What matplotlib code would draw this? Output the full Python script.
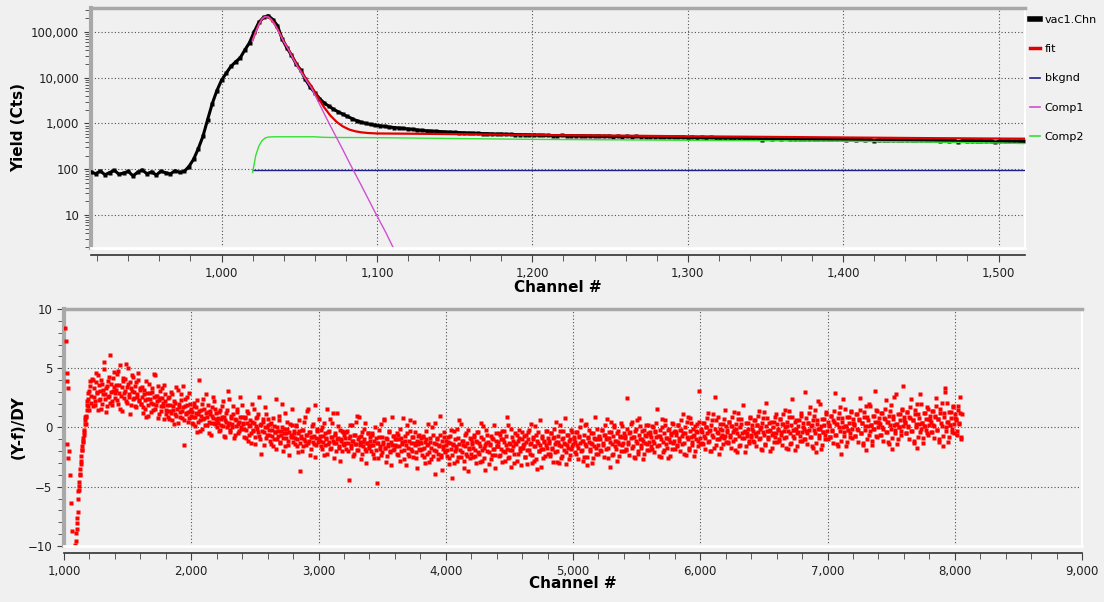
import matplotlib
matplotlib.use('Agg')
import matplotlib.pyplot as plt
import matplotlib.ticker as mticker
from matplotlib.lines import Line2D
import numpy as np

#-------------------------------------
# spectrum (every 3rd channel)
#-------------------------------------
data_ch = np.arange(916, 1517, 3)
data_cts = [
    88, 80, 92, 76, 85, 95, 78, 83, 90, 72, 86, 97, 80, 88, 75, 91, 84, 79, 93, 86,
    90, 115, 165, 280, 520, 1200, 2700, 5200, 8800, 12500, 17500, 22000, 27000, 40000, 58000, 100000, 160000, 205000, 225000, 185000,
    135000, 70000, 45000, 31000, 20000, 14500, 9100, 6300, 4700, 3500, 2800, 2400, 2050, 1800, 1600, 1420, 1280, 1150, 1060, 1000,
    950, 915, 890, 860, 835, 815, 795, 780, 760, 745, 720, 705, 690, 680, 670, 660, 650, 645, 640, 632,
    625, 620, 612, 608, 600, 598, 590, 585, 588, 578, 575, 570, 568, 565, 560, 562, 555, 552, 548, 545,
    540, 548, 535, 542, 530, 538, 528, 533, 525, 530, 520, 527, 518, 524, 515, 522, 512, 520, 510, 517,
    508, 514, 502, 510, 498, 505, 495, 503, 490, 500, 488, 496, 485, 494, 482, 490, 480, 488, 478, 486,
    476, 484, 472, 480, 440, 476, 465, 473, 462, 470, 460, 467, 457, 465, 455, 462, 452, 460, 450, 457,
    448, 455, 445, 452, 442, 450, 440, 447, 410, 445, 435, 442, 433, 440, 431, 438, 429, 436, 427, 434,
    425, 432, 423, 430, 421, 428, 395, 426, 417, 424, 415, 422, 413, 420, 385, 418, 409, 416, 407, 414,
    405]

fit_ch = [1020, 1022, 1024, 1026, 1028, 1030, 1032, 1034, 1036, 1038, 1040, 1043, 1046, 1049, 1052, 1055,
          1058, 1062, 1066, 1070, 1074, 1078, 1082, 1086, 1090, 1094, 1100, 1120, 1140, 1160, 1200, 1250,
          1300, 1350, 1400, 1450, 1500, 1517]
fit_cts = [66000, 100000, 145000, 190000, 215000, 212000, 185000, 150000, 115000, 85000, 62000, 42000,
           27000, 18000, 12500, 8800, 6400, 3700, 2250, 1490, 1085, 865, 740, 675, 640, 620, 605, 598,
           590, 580, 560, 545, 525, 510, 495, 480, 468, 465]

comp1_ch = [1020, 1022, 1024, 1026, 1028, 1030, 1032, 1034, 1036, 1038, 1040, 1043, 1046, 1049, 1052, 1055,
            1058, 1062, 1066, 1070, 1074, 1078, 1082, 1086, 1090, 1094, 1098, 1102, 1106, 1110, 1112]
comp1_cts = [65000, 99000, 144000, 189000, 214000, 211000, 184000, 149000, 114000, 84000, 61000, 41000,
             26000, 17000, 11800, 8200, 5800, 3100, 1650, 890, 490, 270, 145, 80, 44, 24, 13, 7.2, 4.0,
             2.1, 1.6]

comp2_ch = [1020, 1021, 1022, 1024, 1026, 1028, 1030, 1034, 1040, 1060, 1065, 1070, 1100, 1150, 1200,
            1250, 1300, 1350, 1400, 1450, 1500, 1517]
comp2_cts = [85, 130, 200, 320, 420, 480, 505, 512, 512, 512, 500, 495, 490, 470, 450, 440, 430, 420,
             410, 395, 375, 365]

bkgnd_ch = [1020, 1517]
bkgnd_cts = [95, 95]

#-------------------------------------
# residuals, two interleaved sets (every 8th channel), plus a few extra near the edge
#-------------------------------------
resid_ch = np.arange(1008, 8057, 8)
resid = [
    8.4, 7.3, 4.6, 3.3, -2.0, -4.0, -6.4, -8.7, -12.0, -14.0, -11.0, -9.6, -8.1, -6.0, -4.6, -3.5, -2.4, -1.6, -0.9, -0.2, 0.6, 1.0, 2.2, 1.8, 3.1,
    3.5, 2.1, 4.0, 2.6, 1.9, 3.8, 2.9, 4.4, 2.3, 3.1, 1.6, 3.7, 2.8, 4.9, 2.4, 3.3, 1.8, 3.9, 2.7, 6.1, 3.0, 2.2, 4.2, 3.4, 2.5,
    3.2, 4.5, 2.0, 3.6, 5.3, 2.7, 1.4, 3.9, 2.9, 4.1, 2.2, 3.4, 5.0, 2.6, 3.8, 1.9, 3.1, 4.3, 2.5, 3.5, 1.7, 2.8, 4.0, 2.3, 3.3,
    2.0, 3.4, 1.2, 2.8, 1.6, 3.9, 2.4, 1.0, 2.9, 2.1, 3.3, 1.5, 2.6, 4.4, 1.9, 2.7, 0.8, 2.3, 3.1, 1.4, 2.5, 1.8, 3.6, 2.2, 1.1,
    1.9, 0.9, 2.6, 1.4, 3.0, 0.6, 1.8, 2.2, 1.1, 3.4, 1.6, 0.4, 2.0, 1.3, 2.8, 0.8, 1.7, -1.5, 2.4, 1.2, 1.9, 0.5, 2.9, 1.4, 1.0,
    1.3, 0.3, 2.1, 0.9, 1.7, -0.4, 1.1, 4.0, 0.6, 1.5, -0.1, 2.4, 0.8, 1.2, 0.2, 1.9, 0.5, 1.4, -0.6, 1.0, 2.6, 0.4, 1.6, 0.7, 0.0,
    0.8, -0.3, 1.5, 0.2, 0.9, 2.2, -0.7, 0.6, 1.2, 0.0, 3.1, 0.4, -0.2, 1.0, 0.3, 1.8, -0.9, 0.7, 0.1, 1.3, -0.5, 0.5, 2.6, -0.1, 0.9,
    0.3, -0.8, 0.9, -0.2, 1.4, -1.1, 0.1, 0.6, -0.5, 2.0, -0.3, 0.4, -1.4, 0.8, -0.1, 1.1, -0.7, 0.2, -2.2, 0.5, -0.4, 1.7, -0.9, 0.0, 0.7,
    -0.2, -1.1, 0.4, -0.7, -1.6, 0.1, -0.4, 2.4, -1.0, -0.3, 0.6, -1.3, -0.6, 0.0, -2.0, -0.5, 1.2, -0.9, -0.1, -1.5, -0.4, 0.3, -0.8, 1.6, -1.2,
    -0.5, -1.4, 0.2, -1.0, -2.1, -0.3, -3.7, -0.9, -0.2, -1.6, 0.5, -1.1, -0.6, 1.4, -1.3, -0.4, -2.3, -0.8, 0.1, -1.2, -0.7, 1.9, -1.5, -0.3, -1.0,
    -0.7, -1.6, 0.0, -1.2, -2.3, -0.5, -1.0, 1.6, -1.4, -0.3, -1.8, -0.8, 0.4, -1.1, -2.6, -0.6, -1.3, 1.2, -0.9, -1.7, -0.2, -1.0, -2.0, -0.4, -1.5,
    -0.9, -1.8, -0.3, -1.3, -4.4, -0.7, -1.5, 0.2, -1.1, -2.2, -0.6, -1.4, 1.0, -1.9, -0.8, -1.2, -2.7, -0.4, -1.6, -1.0, 0.4, -2.0, -1.3, -0.5, -1.7,
    -1.1, -2.0, -0.5, -1.5, -2.6, -0.9, -4.7, -1.3, -0.2, -1.8, -2.3, -0.8, -1.4, 0.6, -1.7, -2.9, -1.0, -1.6, -0.4, -2.1, -1.2, 0.9, -1.9, -0.7, -1.5,
    -1.0, -2.2, -0.6, -1.6, -2.8, -0.9, -1.4, 0.8, -1.9, -1.1, -3.2, -0.5, -1.7, -2.4, -0.3, -1.3, -2.0, -0.8, 0.5, -1.5, -2.6, -1.1, -0.7, -1.8, -1.2,
    -1.3, -2.3, -0.8, -1.7, -3.0, -1.0, -1.5, 0.3, -2.1, -1.2, -2.7, -0.6, -1.9, -3.9, -1.4, -0.9, -2.2, -1.6, 1.0, -2.5, -1.1, -1.8, -0.4, -2.0, -1.5,
    -2.4, -1.2, -3.1, -0.7, -1.8, -4.3, -1.4, -0.3, -2.0, -1.6, -2.8, -0.9, 0.6, -1.9, -2.5, -1.1, -1.5, -3.4, -0.6, -2.2, -1.3, -0.2, -1.8, -2.6, -1.0,
    -1.4, -2.5, -0.8, -1.9, -3.0, -1.2, -0.4, -2.2, -1.6, 0.4, -2.8, -1.0, -1.7, -3.6, -1.3, -0.6, -2.1, -1.5, -2.7, -0.9, -1.8, 0.2, -2.3, -1.1, -1.6,
    -1.2, -2.4, -0.6, -1.8, -2.9, -1.0, -0.3, -2.1, -1.5, 0.9, -2.6, -1.3, -1.9, -3.3, -0.8, -1.6, -2.2, -0.5, -1.4, -2.8, -1.1, -0.2, -2.0, -1.7, -1.0,
    -1.7, -0.7, -2.5, -1.2, -3.1, -0.4, -1.9, -1.4, 0.3, -2.3, -1.0, -2.8, -1.6, -0.6, -3.5, -1.3, -2.0, 0.6, -1.8, -0.9, -2.6, -1.1, -1.5, -0.3, -2.2,
    -1.1, -2.2, -0.5, -1.7, -2.9, -0.8, -1.4, 0.5, -2.0, -1.2, -3.0, -0.3, -1.6, -2.4, -0.9, -1.3, 0.8, -2.1, -1.5, -0.6, -2.7, -1.0, -1.8, -0.4, -1.4,
    -1.0, -2.1, -0.4, -1.5, -2.7, -0.7, -1.3, 0.6, -1.9, -1.1, -2.5, 0.2, -1.6, -3.2, -0.8, -1.2, -2.0, -0.5, -1.4, -2.6, -0.9, 0.9, -1.7, -1.0, -2.2,
    -0.8, -1.9, -0.2, -1.3, -2.5, -0.6, -1.0, 0.7, -1.7, -0.9, -3.3, -0.4, -1.4, -2.2, 0.2, -1.1, -1.8, -0.5, -1.2, -2.4, -0.7, 0.4, -1.5, -0.8, -2.0,
    -0.7, -1.8, 2.5, -1.2, -2.3, -0.4, -0.9, 0.5, -1.6, -0.8, -2.6, -0.1, -1.3, -2.0, 0.8, -1.0, -1.7, -0.3, -1.1, -2.2, -0.6, 0.2, -1.4, -0.5, -1.9,
    -0.6, -1.6, 0.1, -1.1, -2.1, -0.3, -0.8, 1.6, -1.5, -0.7, -2.5, 0.0, -1.2, -1.9, 0.6, -0.9, -1.7, -0.2, -1.0, -2.4, -0.5, 0.4, -1.3, -0.4, -1.8,
    -0.4, -1.5, 0.2, -0.9, -2.0, -0.2, -0.7, 1.1, -1.3, -0.5, -2.3, 0.5, -1.0, -1.7, 0.8, -0.8, -1.5, -0.1, -0.6, -2.0, -0.3, 0.3, -1.1, 3.1, -1.4,
    -0.3, -1.3, 0.4, -0.7, -1.8, 0.0, -0.5, 1.2, -1.1, -0.2, -2.0, 0.6, -0.8, 2.6, -1.5, -0.4, 0.9, -1.0, -0.1, -1.7, -0.6, 0.3, -0.9, 1.5, -1.2,
    -0.2, -1.2, 0.5, -0.6, -1.7, 0.1, -0.4, 1.3, -1.0, -0.1, -2.1, 0.7, -0.7, -1.5, 0.3, -0.5, 1.9, -0.9, -0.3, -1.6, -0.5, 0.4, -1.1, 0.9, -0.8,
    -0.1, -1.1, 0.6, -0.5, -1.6, 0.2, -0.4, 1.4, -0.9, 0.0, -1.9, 0.8, -0.6, -1.4, 2.1, -0.3, -1.0, 0.4, -0.2, -1.7, -0.5, 0.5, -0.8, 1.1, -1.2,
    -0.1, -1.0, 0.7, -0.4, -1.5, 0.3, -0.3, 1.5, -0.8, 0.1, -1.8, 0.9, -0.5, -1.3, 2.4, -0.2, -0.9, 0.5, -0.1, -1.6, -0.4, 0.6, -0.7, 1.2, -1.1,
    0.0, -1.0, 3.0, -0.3, -1.4, 0.4, -0.2, 1.7, -0.8, 0.2, -1.7, 1.0, -0.5, -2.1, 0.6, -0.1, -0.9, 2.0, 0.1, -1.5, -0.4, 0.7, -0.6, 1.3, -1.0,
    0.2, -0.8, 1.0, -0.2, -1.3, 0.5, 2.9, -0.6, 0.3, -1.6, 1.2, -0.3, -2.2, 0.8, 0.0, -0.7, 1.6, 0.1, -1.2, -0.2, 0.9, -0.5, 1.4, -0.9, 0.4,
    0.3, -0.7, 1.1, -0.1, -1.2, 0.6, 2.5, -0.5, 0.4, -1.5, 1.3, -0.2, -1.9, 0.9, 0.1, -0.6, 1.8, 0.2, -1.1, -0.1, 1.0, 3.1, 1.5, -0.8, 0.5,
    0.4, -0.6, 1.2, 0.0, -1.1, 0.7, 2.3, -0.4, 0.5, -1.4, 1.4, -0.1, -1.8, 1.0, 0.2, -0.5, 2.8, 0.3, -1.0, 0.0, 1.1, -0.3, 1.6, 3.5, 0.6,
    0.5, -0.5, 1.3, 0.1, -1.0, 0.8, 2.4, -0.3, 0.6, -1.3, 1.5, 0.0, -1.7, 1.1, 0.3, -0.4, 2.0, 0.4, -0.9, 0.1, 1.2, -0.2, 1.7, -0.6, 0.7,
    0.6, -0.4, 1.4, 0.2, -0.9, 0.9, 2.5, -0.2, 0.7, -1.2, 1.6, 0.1, -1.6, 1.2, 3.3, -0.3, 2.1, 0.5, -0.8, 0.2, 1.3, -0.1, 1.8, -0.5, 0.8,
    0.6, -0.6, 1.5, 0.3, 2.6, -1.0, 1.1]

resid2_ch = np.arange(1012, 8053, 8)
resid2 = [
    -11.5, -13.0, -14.0, -15.0, -16.0, -16.0, -15.0, -14.0, -13.0, -12.0, -10.4, -8.6, -7.1, -5.3, -4.0, -3.1, -1.9, -1.1, -0.6, 0.9, 0.3, 1.9, 2.9, 1.5, 3.9,
    2.7, 4.1, 1.8, 3.3, 2.2, 4.6, 3.0, 1.5, 3.6, 2.4, 4.0, 2.0, 3.2, 5.5, 2.8, 1.3, 3.5, 2.6, 4.3, 2.1, 3.7, 1.9, 3.1, 4.7, 2.9,
    3.6, 2.3, 4.8, 2.9, 1.6, 3.4, 4.2, 2.5, 3.1, 5.4, 2.1, 3.7, 2.8, 1.1, 3.3, 4.4, 2.4, 3.0, 1.8, 3.8, 2.6, 4.6, 2.2, 3.2, 2.0,
    2.6, 1.7, 3.2, 2.3, 0.9, 2.9, 1.9, 3.7, 2.4, 1.3, 3.0, 2.0, 4.5, 1.6, 2.7, 2.2, 3.5, 1.1, 2.5, 1.8, 3.3, 2.1, 0.7, 2.8, 1.5,
    1.4, 2.5, 0.7, 1.9, 1.2, 2.8, 1.5, 0.3, 2.1, 1.0, 3.2, 1.7, 0.9, 2.3, 1.4, 3.5, 0.6, 1.8, 1.1, 2.6, 1.3, 0.8, 2.0, 1.6, 0.4,
    0.9, 1.8, 0.1, 1.2, 2.3, 0.5, 1.4, -0.3, 1.0, 2.0, 0.7, 1.6, 0.2, 2.8, 0.9, 1.3, -0.5, 1.1, 0.4, 1.7, 0.8, 2.2, 0.3, 1.2, 0.6,
    0.4, 1.3, -0.2, 0.7, 1.8, 0.1, 0.9, -0.8, 0.5, 1.5, 0.2, 2.4, -0.4, 0.8, 0.0, 1.1, -0.6, 0.6, 1.6, 0.3, -0.3, 0.9, 0.0, 1.9, 0.4,
    -0.1, 0.8, -0.9, 0.4, 1.2, -0.6, 0.2, -1.3, 0.5, -0.2, 1.6, -0.8, 0.1, 0.9, -0.4, 2.6, -1.0, 0.3, -0.3, 0.7, -1.5, 0.0, 1.1, -0.6, 0.2,
    -0.6, 0.3, -1.4, -0.2, 0.8, -1.0, -0.4, -1.8, 0.0, -0.7, 1.0, -1.2, -0.3, 2.0, -0.9, -0.1, -1.6, -0.5, 0.5, -1.1, -2.3, -0.6, 0.2, -0.8, -0.3,
    -0.9, 0.1, -1.6, -0.5, 0.6, -1.3, -0.7, -2.0, -0.2, -1.0, 0.9, -1.5, -0.6, 1.6, -1.1, -0.4, -1.8, -0.8, 0.3, -1.4, -2.5, -0.9, -0.1, -1.2, 0.7,
    -1.1, -0.2, -1.8, -0.7, 0.4, -1.5, -0.9, -2.2, -0.4, -1.2, 0.7, -1.7, -0.8, 1.2, -1.3, -0.5, -2.0, -1.0, 0.1, -1.6, -2.8, -1.1, -0.3, -1.4, -0.6,
    -1.3, -0.4, -2.0, -0.9, 0.2, -1.7, -1.1, -2.4, -0.6, -1.4, 0.5, -1.9, -1.0, 0.9, -1.5, -0.7, -2.2, -1.2, -0.1, -1.8, -3.0, -1.3, -0.5, -1.6, -0.8,
    -1.5, -0.6, -2.2, -1.1, 0.0, -1.9, -1.3, -2.6, -0.8, -1.6, 0.3, -2.1, -1.2, 0.7, -1.7, -0.9, -2.4, -1.4, -0.3, -2.0, -3.2, -1.5, -0.7, -1.8, -1.0,
    -1.6, -0.5, -2.3, -1.0, -0.1, -2.0, -1.2, -2.7, -0.7, -1.5, 0.2, -2.2, -1.1, 0.6, -1.8, -0.8, -2.5, -1.3, -0.4, -2.1, -3.4, -1.4, -0.6, -1.9, -0.9,
    -1.8, -0.7, -2.5, -1.2, -0.3, -2.2, -1.4, -2.9, -0.9, -1.7, 0.0, -2.4, -1.3, 0.4, -2.0, -1.0, -2.7, -1.5, -0.6, -2.3, -3.6, -1.6, -0.8, -2.1, -1.1,
    -1.9, -0.8, -2.6, -1.3, -0.2, -2.3, -1.5, -3.0, -1.0, -1.8, -0.1, -2.5, -1.4, 0.3, -2.1, -1.1, -2.8, -1.6, -0.5, -2.4, -3.7, -1.7, -0.9, -2.2, -1.2,
    -1.7, -0.6, -2.4, -1.1, -0.4, -2.1, -1.3, -2.9, -0.8, -1.9, 0.1, -2.6, -1.5, -0.2, -2.0, -1.2, -3.1, -1.4, -0.7, -2.3, -1.0, -1.8, -3.4, -0.5, -1.6,
    -1.6, -0.5, -2.3, -1.0, -0.3, -2.0, -1.2, -2.8, -0.7, -1.8, 0.2, -2.5, -1.4, -0.1, -1.9, -1.1, -3.0, -1.3, -0.6, -2.2, -0.9, -1.7, -3.2, -0.4, -1.5,
    -1.4, -2.5, -0.6, -1.9, -1.0, -0.2, -2.2, -1.3, -3.0, -0.8, -1.6, 0.1, -2.7, -1.1, -0.4, -2.0, -1.5, -3.3, -0.7, -1.8, -1.2, -2.4, -0.3, -1.7, -0.9,
    -1.3, -2.4, -0.5, -1.8, -0.9, -0.1, -2.1, -1.2, -2.9, -0.7, -1.5, 0.2, -2.6, -1.0, -0.3, -1.9, -1.4, -3.1, -0.6, -1.7, -1.1, -2.3, -0.2, -1.6, -0.8,
    -1.2, -2.2, -0.4, -1.7, -0.8, 0.0, -2.0, -1.1, -2.8, -0.6, -1.4, 0.3, -2.5, -0.9, -0.2, -1.8, -1.3, -3.0, -0.5, -1.6, -1.0, -2.2, -0.1, -1.5, -0.7,
    -1.0, -2.0, -0.2, -1.5, -0.6, 0.2, -1.8, -0.9, -2.6, -0.4, -1.2, 0.5, -2.3, -0.7, 0.0, -1.6, -1.1, -2.8, -0.3, -1.4, -0.8, -2.0, 0.1, -1.3, -0.5,
    -0.9, -1.9, -0.1, -1.4, -0.5, 0.3, -1.7, -0.8, -2.5, -0.3, -1.1, 0.6, -2.2, -0.6, 0.1, -1.5, -1.0, -2.7, -0.2, -1.3, -0.7, -1.9, 0.2, -1.2, -0.4,
    -0.8, -1.8, 0.0, -1.3, -0.4, 0.4, -1.6, -0.7, -2.4, -0.2, -1.0, 0.7, -2.1, -0.5, 0.2, -1.4, -0.9, -2.6, -0.1, -1.2, -0.6, -1.8, 0.3, -1.1, -0.3,
    -0.6, -1.6, 0.2, -1.1, -0.2, 0.6, -1.4, -0.5, -2.2, 0.0, -0.8, 0.9, -1.9, -0.3, 0.4, -1.2, -0.7, -2.4, 0.1, -1.0, -0.4, -1.6, 0.5, -0.9, -0.1,
    -0.4, -1.4, 0.4, -0.9, 0.0, 0.8, -1.2, -0.3, -2.0, 0.2, -0.6, 1.1, -1.7, -0.1, 0.6, -1.0, -0.5, -2.2, 0.3, -0.8, -0.2, -1.4, 0.7, -0.7, 0.1,
    -0.4, -1.3, 0.5, -0.8, 0.1, 0.9, -1.1, -0.2, -1.9, 0.3, -0.5, 1.2, -1.6, 0.0, 0.7, -0.9, -0.4, -2.1, 0.4, -0.7, -0.1, -1.3, 0.8, -0.6, 0.2,
    -0.3, -1.2, 0.6, -0.7, 0.2, 1.0, -1.0, -0.1, -1.8, 0.4, -0.4, 1.3, -1.5, 0.1, 0.8, -0.8, -0.3, -2.0, 0.5, -0.6, 0.0, -1.2, 0.9, -0.5, 0.3,
    -0.2, -1.1, 0.7, -0.6, 0.3, 1.1, -0.9, 0.0, -1.7, 0.5, -0.3, 1.4, -1.4, 0.2, 0.9, -0.7, -0.2, -1.9, 0.6, -0.5, 0.1, -1.1, 1.0, -0.4, 0.4,
    -0.1, -1.0, 0.8, -0.5, 0.4, 1.2, -0.8, 0.1, -1.6, 0.6, -0.2, 1.5, -1.3, 0.3, 2.2, -0.6, -0.1, -1.8, 0.7, -0.4, 0.2, -1.0, 1.1, -0.3, 0.5,
    0.1, -0.8, 1.0, -0.3, 0.6, 1.4, -0.6, 0.3, -1.4, 0.8, 0.0, 1.7, -1.1, 0.5, 2.4, -0.4, 0.1, -1.6, 0.9, -0.2, 0.4, -0.8, 1.3, -0.1, 0.7,
    0.2, -0.7, 1.1, -0.2, 0.7, 1.5, -0.5, 0.4, -1.3, 0.9, 0.1, 1.8, -1.0, 0.6, 2.0, -0.3, 0.2, -1.5, 1.0, -0.1, 0.5, -0.7, 1.4, 0.0, 0.8,
    0.3, -0.6, 1.2, -0.1, 0.8, 1.6, -0.4, 0.5, -1.2, 1.0, 0.2, 1.9, -0.9, 0.7, 2.6, -0.2, 0.3, -1.4, 1.1, 0.0, 0.6, -0.6, 1.5, 0.1, 0.9,
    0.4, -0.5, 1.3, 0.0, 0.9, 1.7, -0.3, 0.6, -1.1, 1.1, 0.3, 2.0, -0.8, 0.8, 2.8, -0.1, 0.4, -1.3, 1.2, 0.1, 0.7, -0.5, 1.6, 0.2, 1.0,
    0.5, -0.4, 1.4, 0.1, 1.0, 1.8, -0.2, 0.7, -1.0, 1.2, 0.4, 2.1, -0.7, 0.9, 3.0, 0.0, 0.5, -1.2, 1.3, 0.2, 0.8, -0.4, 1.7, 0.3, 1.1,
    0.7, -0.3, 1.8, 0.4, 1.2, -0.8]

extra_ch = [1020, 1026, 1034, 1090, 1096, 1104, 1112, 1118, 1124, 1132, 1140, 1148, 1156, 1164, 1172, 1180, 1190]
extra_resid = [3.9, -1.4, -2.6, -9.9, -8.9, -7.6, -5.4, -4.9, -3.9, -2.8, -1.9, -1.2, -0.4, 0.3, 0.9, 1.5, 2.4]

BG = '#f0f0f0'
RED = '#ff0000'
plt.rcParams['font.family'] = 'DejaVu Sans'

#-------------------------------------
def comma_fmt(v, p):
    return '{:,.0f}'.format(v)

def style_axes(ax):
    ax.set_facecolor(BG)
    ax.spines['left'].set_color('#a8a8a8')
    ax.spines['left'].set_linewidth(3)
    ax.spines['top'].set_color('#a8a8a8')
    ax.spines['top'].set_linewidth(2.5)
    ax.spines['right'].set_color('white')
    ax.spines['right'].set_linewidth(1.5)
    ax.spines['bottom'].set_position(('outward', 5))
    ax.spines['bottom'].set_color('#303030')
    ax.spines['bottom'].set_linewidth(1.2)
    # white edge along the bottom of the plot area
    ax.plot([0, 1], [0, 0], transform=ax.transAxes, color='white', lw=2, clip_on=False, zorder=5)
    ax.grid(True, which='major', linestyle=(0, (1, 2)), color='#505050', linewidth=0.8)
    ax.tick_params(which='both', direction='out', color='#404040', labelsize=8.5, labelcolor='#202020')
    ax.tick_params(which='major', length=5)
    ax.tick_params(which='minor', length=4)
    ax.xaxis.set_major_formatter(mticker.FuncFormatter(comma_fmt))

fig = plt.figure(figsize=(11.04, 6.02), dpi=100, facecolor=BG)

#-------------------------------------
# top panel: spectrum + fit
#-------------------------------------
ax1 = fig.add_axes([91/1104, 1-248/602, 934/1104, 240/602])
style_axes(ax1)
ax1.set_yscale('log')
ax1.plot(data_ch, data_cts, '-', color='black', lw=2.2, zorder=3)
ax1.plot(data_ch, data_cts, 's', color='black', ms=2.8, mec='none', zorder=3)
ax1.plot(bkgnd_ch, bkgnd_cts, color='#20208c', lw=1.0, zorder=4)
ax1.plot(comp2_ch, comp2_cts, color='#33e033', lw=1.0, zorder=4)
ax1.plot(fit_ch, fit_cts, color='#e00000', lw=1.6, zorder=4)
ax1.plot(comp1_ch, comp1_cts, color='#d050d0', lw=1.0, zorder=4)
ax1.set_xlim(916, 1517)
ax1.set_ylim(1.92, 330000)
ax1.xaxis.set_major_locator(mticker.MultipleLocator(100))
ax1.xaxis.set_minor_locator(mticker.MultipleLocator(20))
ax1.yaxis.set_major_locator(mticker.LogLocator(base=10, numticks=10))
ax1.yaxis.set_minor_locator(mticker.LogLocator(base=10, subs=np.arange(2, 10), numticks=20))
ax1.yaxis.set_minor_formatter(mticker.NullFormatter())
ax1.yaxis.set_major_formatter(mticker.FuncFormatter(comma_fmt))
ax1.set_ylabel('Yield (Cts)', fontsize=11, fontweight='bold')
ax1.set_xlabel('Channel #', fontsize=11, fontweight='bold')
ax1.yaxis.set_label_coords((26-91)/934, 0.5)
ax1.xaxis.set_label_coords(0.5, (248-280)/240)

handles = [Line2D([], [], color='black', lw=4),
           Line2D([], [], color='#e00000', lw=2.5),
           Line2D([], [], color='#20208c', lw=1.2),
           Line2D([], [], color='#d050d0', lw=1.2),
           Line2D([], [], color='#33e033', lw=1.2)]
labels = ['vac1.Chn', 'fit', 'bkgnd', 'Comp1', 'Comp2']
fig.legend(handles, labels, loc='upper left', bbox_to_anchor=(1028/1104, 1-13/602),
           frameon=False, fontsize=8, handlelength=0.9, handletextpad=0.4,
           labelspacing=1.72, borderaxespad=0, borderpad=0.2)

#-------------------------------------
# bottom panel: normalised residuals
#-------------------------------------
ax2 = fig.add_axes([64/1104, 1-546/602, 1018/1104, 237/602])
style_axes(ax2)
ax2.plot(resid_ch[:len(resid)], resid, 's', color=RED, ms=2.5, mec='none', zorder=3)
ax2.plot(resid2_ch[:len(resid2)], resid2[:len(resid2_ch)], 's', color=RED, ms=2.5, mec='none', zorder=3)
ax2.plot(extra_ch, extra_resid, 's', color=RED, ms=2.5, mec='none', zorder=3)
ax2.set_xlim(1000, 9000)
ax2.set_ylim(-10, 10)
ax2.xaxis.set_major_locator(mticker.MultipleLocator(1000))
ax2.xaxis.set_minor_locator(mticker.MultipleLocator(200))
ax2.yaxis.set_major_locator(mticker.MultipleLocator(5))
ax2.yaxis.set_minor_locator(mticker.MultipleLocator(1))
ax2.set_ylabel('(Y-f)/DY', fontsize=11, fontweight='bold')
ax2.set_xlabel('Channel #', fontsize=11, fontweight='bold')
ax2.yaxis.set_label_coords((26-64)/1018, 0.5)
ax2.xaxis.set_label_coords(0.5, (546-576)/237)

fig.savefig('out.png', dpi=100, facecolor=BG)
